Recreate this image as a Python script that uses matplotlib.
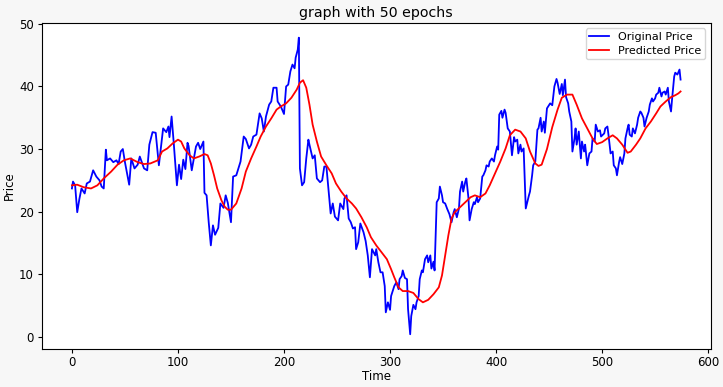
import matplotlib
matplotlib.use("Agg")
import matplotlib.pyplot as plt

# original price (time step, price)
orig_time = [
    0, 1, 3, 5, 7, 9, 12, 14, 17, 20, 23, 26, 28, 30, 32, 33, 36, 39, 42, 44,
    46, 48, 50, 54, 56, 59, 62, 64, 68, 71, 73, 76, 79, 82, 86, 89, 91, 92, 94, 96,
    99, 101, 103, 105, 107, 109, 110, 113, 117, 119, 121, 124, 125, 127, 129, 131, 133, 135, 138, 140,
    143, 145, 147, 150, 152, 155, 157, 159, 162, 164, 167, 169, 171, 174, 177, 179, 181, 183, 186, 188,
    190, 193, 194, 197, 200, 202, 204, 206, 208, 210, 211, 213, 214, 215, 217, 219, 221, 223, 224, 227,
    229, 231, 234, 236, 238, 240, 241, 244, 246, 248, 251, 253, 256, 257, 259, 261, 263, 265, 267, 268,
    270, 272, 275, 277, 279, 281, 283, 286, 287, 289, 291, 293, 295, 296, 298, 300, 301, 304, 306, 308,
    309, 311, 312, 314, 316, 317, 319, 320, 322, 324, 325, 327, 328, 330, 331, 333, 335, 336, 338, 339,
    341, 342, 344, 346, 347, 349, 350, 352, 354, 356, 358, 360, 361, 363, 365, 366, 368, 369, 371, 372,
    374, 375, 377, 379, 380, 382, 383, 385, 387, 388, 390, 391, 393, 394, 396, 398, 399, 401, 402, 403,
    405, 406, 408, 409, 411, 413, 415, 417, 418, 420, 421, 423, 424, 426, 427, 428, 431, 432, 434, 435,
    437, 439, 440, 442, 443, 445, 446, 448, 451, 453, 455, 457, 458, 460, 462, 463, 465, 466, 468, 469,
    471, 472, 474, 475, 476, 478, 480, 481, 483, 484, 486, 488, 490, 491, 493, 494, 496, 498, 499, 502,
    503, 505, 506, 508, 510, 511, 513, 514, 516, 517, 519, 521, 522, 524, 525, 526, 528, 529, 531, 533,
    534, 536, 537, 539, 540, 542, 544, 545, 547, 548, 550, 551, 553, 554, 556, 557, 559, 560, 562, 563,
    565, 566, 568, 569, 571, 573, 574,
]
orig_price = [
    23.7, 24.8, 24.2, 19.9, 22.0, 23.7, 22.9, 24.5, 24.8, 26.6, 25.6, 25.0, 24.0, 23.7, 29.9, 28.2, 28.5, 27.9, 28.2, 27.6,
    29.6, 30.0, 27.9, 24.3, 28.5, 26.9, 27.5, 28.8, 26.9, 26.6, 30.7, 32.7, 32.6, 27.4, 33.3, 32.7, 33.6, 31.9, 35.2, 31.0,
    24.2, 27.5, 25.2, 28.3, 26.8, 31.0, 30.5, 26.6, 30.4, 31.0, 30.0, 31.2, 23.0, 22.6, 18.3, 14.6, 17.8, 16.3, 17.4, 21.3,
    20.6, 22.6, 21.4, 18.3, 25.6, 25.8, 26.9, 28.0, 32.0, 31.6, 30.1, 30.7, 32.0, 32.3, 35.7, 34.9, 32.8, 35.2, 37.1, 37.6,
    39.8, 39.8, 37.6, 36.8, 35.6, 40.0, 40.3, 42.4, 43.5, 42.9, 44.6, 45.9, 47.8, 26.9, 24.2, 24.7, 28.5, 31.5, 30.7, 28.5,
    29.0, 25.3, 24.7, 25.0, 27.2, 27.2, 25.3, 19.7, 21.3, 19.2, 18.6, 21.3, 20.4, 22.1, 22.6, 18.9, 18.3, 17.3, 17.5, 14.0,
    15.1, 18.1, 16.7, 15.3, 13.0, 9.5, 14.0, 13.0, 14.0, 11.9, 10.3, 10.3, 8.1, 3.9, 5.5, 4.3, 6.5, 8.1, 8.7, 7.6,
    9.2, 9.7, 10.6, 9.4, 9.2, 4.4, 0.4, 3.3, 5.1, 4.4, 5.5, 6.5, 9.2, 10.6, 10.3, 12.4, 13.0, 11.9, 13.0, 10.9,
    12.0, 10.6, 21.5, 22.1, 24.0, 22.6, 21.5, 21.3, 20.4, 19.6, 18.3, 19.9, 20.4, 19.1, 20.5, 23.2, 24.8, 23.2, 24.8, 25.3,
    22.1, 18.6, 20.4, 21.5, 21.2, 22.3, 21.5, 22.1, 25.6, 25.8, 26.6, 27.4, 27.2, 28.0, 28.5, 28.0, 29.0, 30.4, 29.9, 35.5,
    36.1, 35.0, 36.3, 35.8, 33.3, 32.8, 29.0, 31.9, 31.2, 31.5, 29.3, 30.7, 29.6, 30.1, 25.3, 20.5, 22.6, 23.2, 25.8, 27.4,
    28.0, 33.1, 33.3, 35.0, 32.8, 34.4, 32.6, 36.5, 37.3, 37.0, 40.0, 41.2, 40.6, 38.8, 40.4, 38.6, 41.1, 38.3, 37.3, 36.0,
    34.4, 29.6, 31.7, 33.3, 30.7, 32.8, 28.5, 31.2, 29.6, 30.7, 27.4, 29.3, 29.6, 31.7, 31.2, 33.9, 32.8, 33.0, 32.0, 32.5,
    33.3, 33.6, 32.3, 29.3, 29.6, 27.4, 26.9, 25.8, 27.9, 28.7, 27.6, 29.3, 31.7, 33.3, 33.9, 32.3, 32.0, 33.3, 32.5, 33.9,
    35.0, 36.0, 35.8, 35.0, 33.6, 35.0, 36.0, 37.1, 38.1, 37.6, 38.1, 38.7, 39.0, 39.8, 38.4, 39.0, 39.2, 38.7, 39.8, 37.6,
    36.0, 38.0, 41.6, 42.2, 41.9, 42.7, 41.1,
]

# predicted price (smooth model output)
pred_time = [
    0, 5, 11, 18, 24, 30, 37, 43, 49, 55, 62, 68, 74, 81, 85, 90, 95, 100, 103, 106,
    111, 115, 120, 125, 128, 131, 134, 137, 141, 144, 147, 150, 155, 160, 164, 169, 174, 178, 183, 188,
    193, 197, 202, 207, 212, 215, 218, 221, 224, 227, 231, 235, 240, 245, 249, 254, 259, 264, 268, 273,
    278, 282, 287, 292, 297, 301, 304, 308, 312, 317, 322, 327, 331, 336, 341, 346, 349, 352, 355, 358,
    361, 366, 371, 376, 380, 385, 390, 394, 399, 404, 409, 413, 418, 423, 428, 432, 437, 440, 443, 448,
    453, 458, 462, 467, 472, 476, 481, 486, 491, 495, 500, 505, 510, 514, 519, 524, 527, 532, 536, 541,
    546, 551, 555, 560, 565, 569, 572, 574,
]
pred_price = [
    24.2, 24.3, 23.9, 23.7, 24.2, 25.3, 26.4, 27.5, 28.2, 28.5, 27.9, 27.6, 27.7, 28.2, 29.6, 30.1, 30.9, 31.5, 31.2, 30.1,
    29.0, 28.5, 28.8, 29.2, 29.0, 27.7, 25.8, 23.7, 21.8, 20.8, 20.3, 20.3, 21.3, 23.7, 26.4, 28.5, 30.4, 32.0, 33.6, 34.9,
    36.3, 36.8, 37.3, 38.2, 39.5, 40.6, 41.0, 39.8, 37.1, 33.9, 31.2, 28.8, 27.4, 26.1, 24.5, 23.2, 22.1, 21.3, 20.5, 19.1,
    17.5, 15.9, 14.6, 13.5, 12.4, 10.8, 9.5, 7.9, 7.3, 7.3, 7.0, 6.0, 5.5, 5.9, 6.8, 7.9, 9.8, 13.0, 16.2, 18.9,
    19.9, 20.7, 21.5, 22.3, 22.6, 22.3, 22.9, 24.2, 26.1, 28.0, 30.1, 32.2, 33.1, 32.8, 31.7, 29.6, 27.7, 27.3, 27.5, 30.0,
    33.5, 36.3, 38.2, 38.7, 38.7, 37.1, 34.9, 33.3, 31.7, 30.8, 31.1, 31.7, 32.2, 31.7, 30.7, 29.4, 29.6, 30.7, 31.7, 33.3,
    34.4, 35.7, 36.8, 37.6, 38.3, 38.6, 38.9, 39.2,
]

plt.rcParams["font.size"] = 8.5
plt.rcParams["xtick.major.size"] = 3
plt.rcParams["ytick.major.size"] = 3
plt.rcParams["xtick.major.pad"] = 2
plt.rcParams["ytick.major.pad"] = 2.5

fig = plt.figure(figsize=(7.23, 3.87), dpi=100, facecolor="#f7f7f7")
ax = fig.add_axes([0.0574, 0.098, 0.926, 0.843])

ax.plot(orig_time, orig_price, color="blue", linewidth=1.3, label="Original Price")
ax.plot(pred_time, pred_price, color="red", linewidth=1.3, label="Predicted Price")

ax.set_title("graph with 50 epochs", pad=4)
ax.set_xlabel("Time", labelpad=1)
ax.set_ylabel("Price", labelpad=2)
ax.legend(loc="upper right", fontsize=8, labelspacing=0.3, borderpad=0.35, handlelength=1.8)

fig.savefig("out.png", dpi=100, facecolor=fig.get_facecolor())
